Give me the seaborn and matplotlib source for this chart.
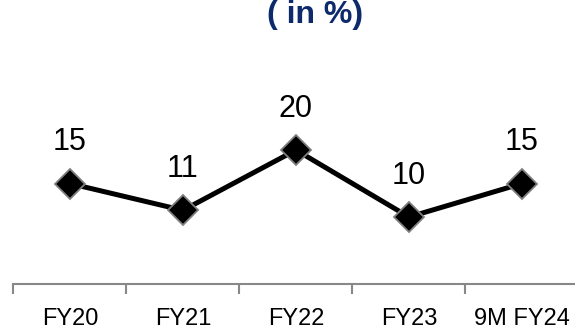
import matplotlib
matplotlib.use("Agg")
import matplotlib.pyplot as plt
import seaborn as sns
import pandas as pd

# Data
periods = ["FY20", "FY21", "FY22", "FY23", "9M FY24"]
values = [15, 11, 20, 10, 15]
title_text = "( in %)"

df = pd.DataFrame({"period": periods, "value": values})
df["pos"] = range(len(periods))

sns.set_style("white")
plt.rcParams["font.family"] = ["Liberation Sans", "DejaVu Sans"]

fig = plt.figure(figsize=(5.75, 3.32), dpi=100)
ax = fig.add_axes([0, 0.1446, 1, 0.8554])

sns.lineplot(data=df, x="pos", y="value", ax=ax, color="black", linewidth=3.6,
             marker="D", markersize=15, markerfacecolor="black",
             markeredgecolor="#7f7f7f", markeredgewidth=1.3, zorder=3)

for x, v in zip(df["pos"], df["value"]):
    ax.annotate(f"{v}", (x, v), xytext=(0, 19), textcoords="offset points",
                ha="center", va="bottom", fontsize=22, color="black")

ax.set_xlim(-0.619, 4.469)
ax.set_ylim(0, 42.4)

# category labels centred, boundary tick marks between categories
ax.set_xticks(df["pos"])
ax.set_xticklabels(periods, fontsize=17, color="black")
ax.tick_params(axis="x", which="major", length=0, pad=17)
ax.set_xticks([-0.5, 0.5, 1.5, 2.5, 3.5], minor=True)
ax.tick_params(axis="x", which="minor", bottom=True, length=7, width=1.5,
               color="#888888", direction="out")
ax.set_yticks([])
ax.set_xlabel("")
ax.set_ylabel("")

for s in ["top", "right", "left"]:
    ax.spines[s].set_visible(False)
ax.spines["bottom"].set_color("#888888")
ax.spines["bottom"].set_linewidth(1.5)
ax.spines["bottom"].set_bounds(-0.5, 4.469)

fig.text(0.548, 0.956, title_text, ha="center", va="center", fontsize=23,
         fontweight="bold", color="#0d2a6b")

fig.savefig("out.png", dpi=100)
